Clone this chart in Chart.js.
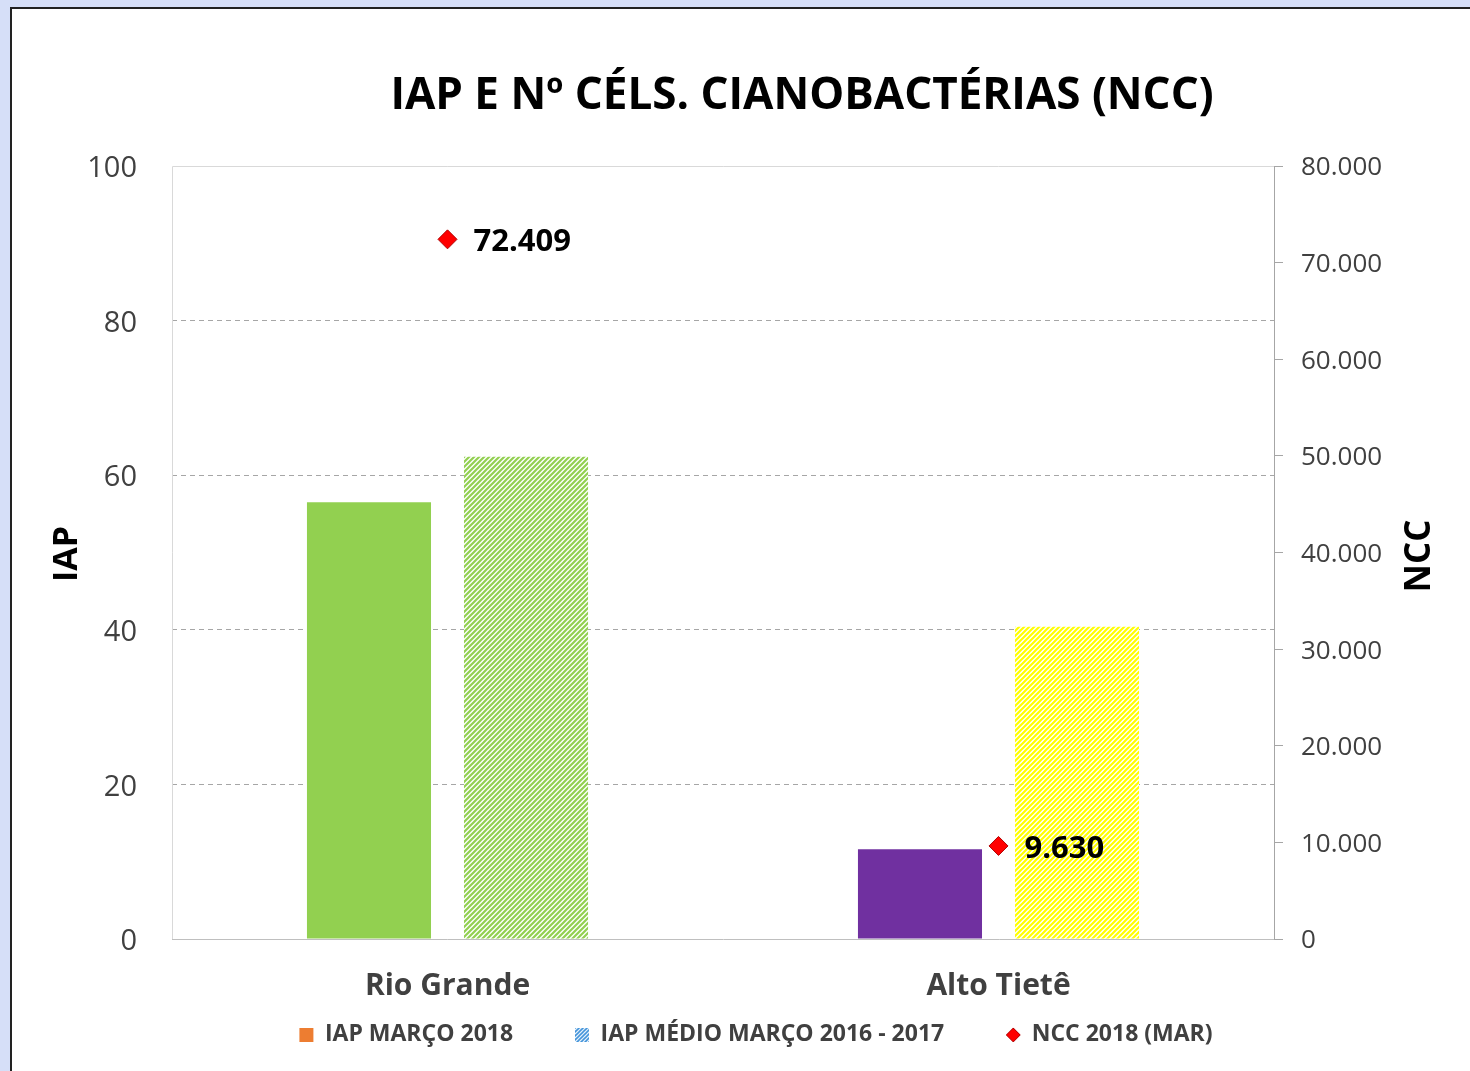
<!DOCTYPE html>
<html><head><meta charset="utf-8">
<script src="https://cdn.jsdelivr.net/npm/chart.js@4.4.1/dist/chart.umd.min.js"></script>
<style>
html,body{margin:0;padding:0;width:1470px;height:1071px;overflow:hidden;background:#d6dff8;}
#frame{position:absolute;left:10px;top:7px;width:1500px;height:1100px;border:2px solid #222;background:#fff;}
#c{position:absolute;left:12px;top:9px;}
</style></head><body>
<div id="frame"></div>
<canvas id="c" width="1488" height="1062"></canvas>
<script>
// ---- data ----
const categories = ['Rio Grande', 'Alto Tietê'];
const iapMarco2018 = [56.5, 11.6];
const iapMedioMarco2016_2017 = [62.4, 40.4];
const ncc2018Mar = [72409, 9630];
const seriesNames = ['IAP MARÇO 2018', 'IAP MÉDIO MARÇO 2016 - 2017', 'NCC 2018 (MAR)'];
const chartTitle = 'IAP E Nº CÉLS. CIANOBACTÉRIAS (NCC)';
const leftAxisTitle = 'IAP';
const rightAxisTitle = 'NCC';

// ---- styling ----
const FONT = "'Open Sans', sans-serif";
const canvas = document.getElementById('c');
const ctx = canvas.getContext('2d');

function hatchTile(fg, bg, size, lw) {
  const c = document.createElement('canvas');
  c.width = c.height = size;
  const x = c.getContext('2d');
  x.fillStyle = bg; x.fillRect(0, 0, size, size);
  x.strokeStyle = fg; x.lineWidth = lw; x.beginPath();
  x.moveTo(0, size); x.lineTo(size, 0);
  x.moveTo(-1, 1); x.lineTo(1, -1);
  x.moveTo(size - 1, size + 1); x.lineTo(size + 1, size - 1);
  x.stroke();
  return c;
}
const greenHatch = ctx.createPattern(hatchTile('#92d050', '#ffffff', 5, 2.2), 'repeat');
const yellowHatch = ctx.createPattern(hatchTile('#ffff00', '#ffffff', 5, 2.2), 'repeat');
const legendHatch = (function () {
  const c = document.createElement('canvas'); c.width = c.height = 14;
  const x = c.getContext('2d');
  x.fillStyle = x.createPattern(hatchTile('#3a8fd9', '#ffffff', 4, 1.6), 'repeat');
  x.fillRect(0, 0, 14, 14);
  return c;
})();
const legendDiamond = (function () {
  const c = document.createElement('canvas'); c.width = c.height = 16;
  const x = c.getContext('2d');
  x.fillStyle = '#ff0000'; x.strokeStyle = '#b00000'; x.lineWidth = 1;
  x.beginPath(); x.moveTo(8, 1); x.lineTo(15, 8); x.lineTo(8, 15); x.lineTo(1, 8); x.closePath();
  x.fill(); x.stroke();
  return c;
})();

function fmtThousands(v) {
  return String(Math.round(v)).replace(/\B(?=(\d{3})+(?!\d))/g, '.');
}

const CA_LEFT = 160, CA_RIGHT = 1262, CA_TOP = 157, CA_BOTTOM = 930;
const X_AXIS_H = 75;
const LEG_PAD = 62;
const LEG_TEXT_Y = 1027;

const legendFitPlugin = {
  id: 'legendFit',
  beforeInit(chart) {
    const orig = chart.legend.fit;
    chart.legend.fit = function () { orig.call(this); this.height = chart.height - (CA_BOTTOM + X_AXIS_H); };
  },
  afterLayout(chart) {
    const lg = chart.legend;
    lg.top = LEG_TEXT_Y - LEG_PAD - 12.6;
    lg.bottom = chart.height;
    lg.height = lg.bottom - lg.top;
  }
};

const framePlugin = {
  id: 'frame',
  beforeDatasetsDraw(chart) {
    const a = chart.chartArea, c = chart.ctx;
    c.save();
    c.strokeStyle = '#d9d9d9'; c.lineWidth = 1;
    c.beginPath();
    c.moveTo(a.left + 0.5, a.bottom); c.lineTo(a.left + 0.5, a.top + 0.5); c.lineTo(a.right, a.top + 0.5);
    c.stroke();
    c.restore();
  }
};

const labelsPlugin = {
  id: 'texts',
  afterDatasetsDraw(chart) {
    const c = chart.ctx;
    const meta = chart.getDatasetMeta(2);
    c.save();
    c.font = 'bold 31px ' + FONT;
    c.fillStyle = '#000';
    c.textBaseline = 'middle'; c.textAlign = 'left';
    meta.data.forEach((pt, i) => {
      c.fillText(fmtThousands(ncc2018Mar[i]), pt.x + 26, pt.y + 3);
    });
    c.restore();
  },
  afterDraw(chart) {
    const c = chart.ctx;
    c.save();
    c.fillStyle = '#000';
    c.textAlign = 'center'; c.textBaseline = 'middle';
    c.font = 'bold 44px ' + FONT;
    c.fillText(chartTitle, 790, 87);
    c.font = 'bold 34px ' + FONT;
    c.translate(55, 545); c.rotate(-Math.PI / 2);
    c.fillText(leftAxisTitle, 0, 0);
    c.restore();
    c.save();
    c.fillStyle = '#000';
    c.textAlign = 'center'; c.textBaseline = 'middle';
    c.font = 'bold 35px ' + FONT;
    c.translate(1408, 547); c.rotate(-Math.PI / 2);
    c.fillText(rightAxisTitle, 0, 0);
    c.restore();
  }
};

new Chart(canvas, {
  data: {
    labels: categories,
    datasets: [
      {
        type: 'bar', label: seriesNames[0], data: iapMarco2018, yAxisID: 'y',
        backgroundColor: ['#92d050', '#7030a0'], borderWidth: 0,
        categoryPercentage: 0.57, barPercentage: 0.79, order: 2
      },
      {
        type: 'bar', label: seriesNames[1], data: iapMedioMarco2016_2017, yAxisID: 'y',
        backgroundColor: [greenHatch, yellowHatch], borderWidth: 0,
        categoryPercentage: 0.57, barPercentage: 0.79, order: 2
      },
      {
        type: 'line', label: seriesNames[2], data: ncc2018Mar, yAxisID: 'y1',
        showLine: false, pointStyle: 'rectRot', pointRadius: 9.5, pointHoverRadius: 9.5,
        backgroundColor: '#ff0000', borderColor: '#b00000', pointBorderWidth: 1, order: 1
      }
    ]
  },
  options: {
    responsive: false,
    animation: false,
    events: [],
    layout: { padding: { top: CA_TOP, left: 0, right: 0, bottom: 0 } },
    scales: {
      x: {
        type: 'category',
        offset: true,
        grid: { display: false },
        border: { display: true, color: '#bfbfbf', width: 1 },
        ticks: { color: '#404040', font: { family: FONT, size: 30, weight: 'bold' }, padding: 21, maxRotation: 0, autoSkip: false },
        afterFit(s) { s.height = X_AXIS_H; }
      },
      y: {
        position: 'left',
        min: 0, max: 100,
        ticks: { stepSize: 20, color: '#404040', font: { family: FONT, size: 29 }, padding: 35, labelOffset: 3 },
        grid: {
          drawTicks: false,
          color: (c) => (c.tick && (c.tick.value === 0 || c.tick.value === 100)) ? 'rgba(0,0,0,0)' : '#a6a6a6',
          lineWidth: 1
        },
        border: { display: false, dash: [5, 4] },
        afterFit(s) { s.width = CA_LEFT; }
      },
      y1: {
        position: 'right',
        min: 0, max: 80000,
        ticks: { stepSize: 10000, color: '#404040', font: { family: FONT, size: 26 }, padding: 18, labelOffset: 2,
          callback: (v) => fmtThousands(v) },
        grid: { drawOnChartArea: false, drawTicks: true, tickLength: 9, tickColor: '#a6a6a6', color: '#a6a6a6' },
        border: { display: true, color: '#a6a6a6', width: 1 },
        afterFit(s) { s.width = 1488 - CA_RIGHT; }
      }
    },
    plugins: {
      title: { display: false },
      tooltip: { enabled: false },
      legend: {
        display: true,
        position: 'bottom',
        labels: {
          usePointStyle: true,
          boxWidth: 14, boxHeight: 14,
          padding: LEG_PAD,
          color: '#404040',
          font: { family: FONT, size: 23, weight: 'bold' },
          generateLabels: () => [
            { text: seriesNames[0], pointStyle: 'rect', fillStyle: '#ed7d31', strokeStyle: '#ed7d31', lineWidth: 0, fontColor: '#404040', hidden: false, datasetIndex: 0 },
            { text: seriesNames[1], pointStyle: legendHatch, fillStyle: '#3a8fd9', strokeStyle: '#3a8fd9', lineWidth: 0, fontColor: '#404040', hidden: false, datasetIndex: 1 },
            { text: seriesNames[2], pointStyle: legendDiamond, fillStyle: '#ff0000', strokeStyle: '#b00000', lineWidth: 1, fontColor: '#404040', hidden: false, datasetIndex: 2 }
          ]
        }
      }
    }
  },
  plugins: [legendFitPlugin, framePlugin, labelsPlugin]
});
</script>
</body></html>
